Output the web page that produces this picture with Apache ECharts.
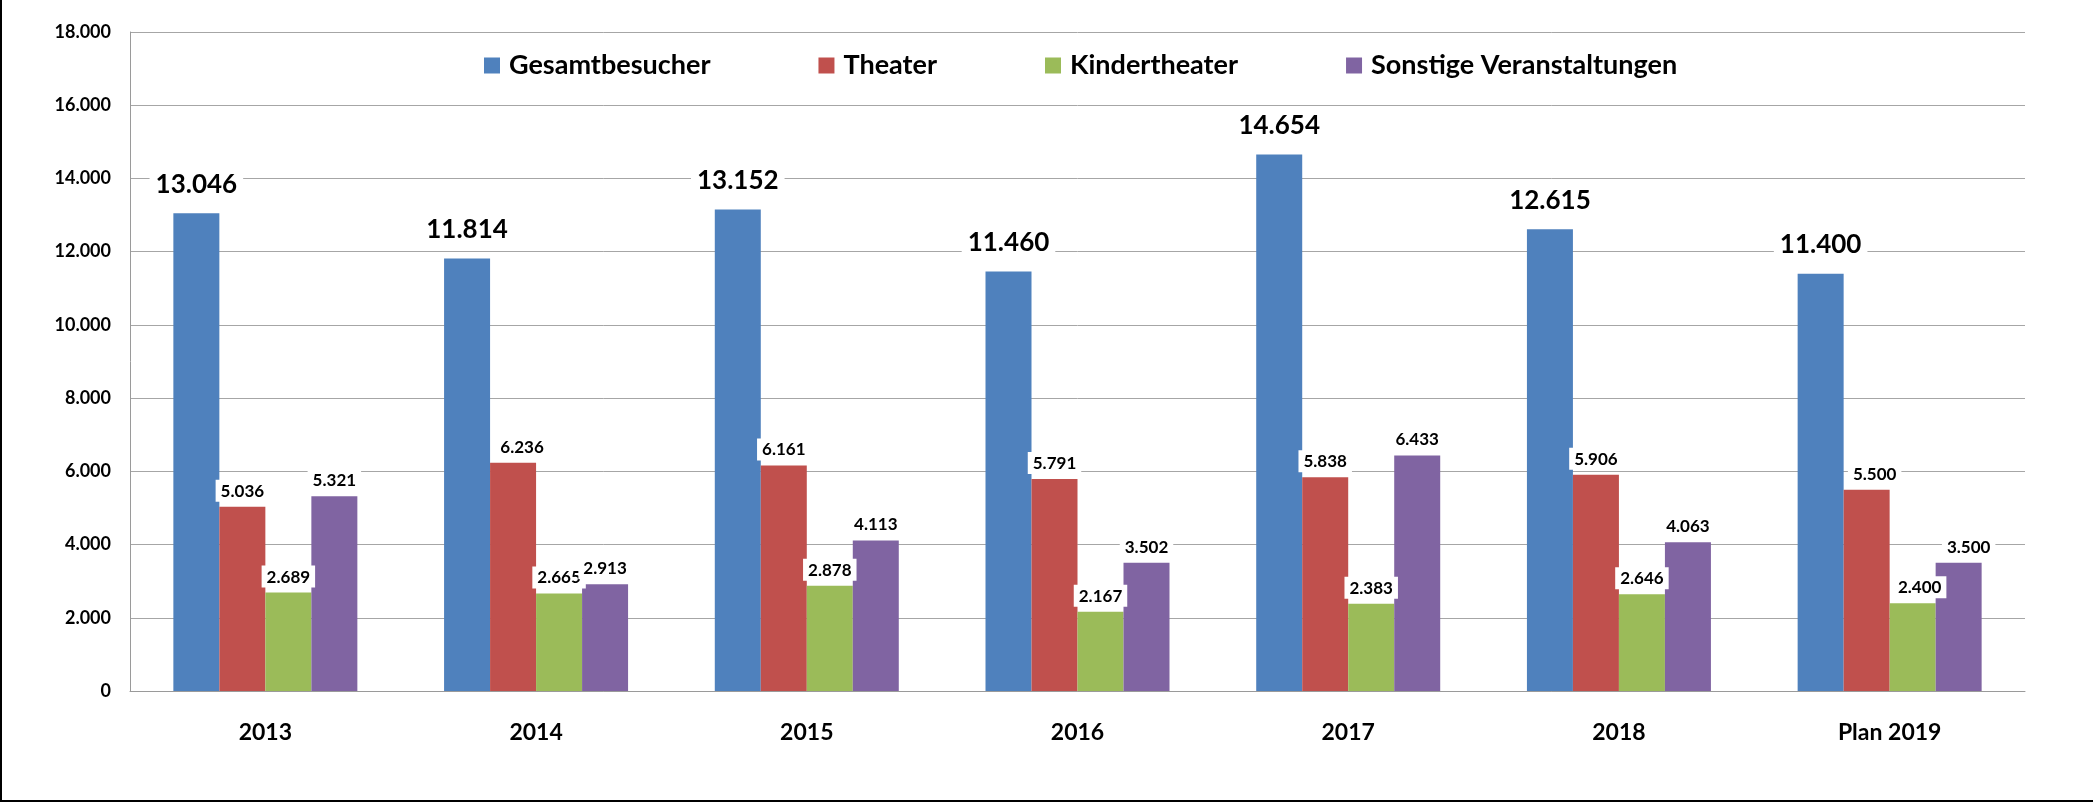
<!DOCTYPE html>
<html>
<head>
<meta charset="utf-8">
<title>Besucher</title>
<script src="https://cdn.jsdelivr.net/npm/echarts@6/dist/echarts.min.js"></script>
<style>
  html, body { margin: 0; padding: 0; background: #fff; }
  #wrap { position: relative; width: 2093px; height: 802px; }
  #chart { width: 2093px; height: 802px; }
  #frame {
    position: absolute; left: 0; top: 0; width: 2093px; height: 802px;
    box-sizing: border-box; border-left: 2px solid #000; border-bottom: 2px solid #000;
    pointer-events: none;
  }
</style>
</head>
<body>
<div id="wrap">
  <div id="chart"></div>
  <div id="frame"></div>
</div>
<script>
// Daten
const years = ['2013', '2014', '2015', '2016', '2017', '2018', 'Plan 2019'];
const gesamt = [13046, 11814, 13152, 11460, 14654, 12615, 11400];
const theater = [5036, 6236, 6161, 5791, 5838, 5906, 5500];
const kinder = [2689, 2665, 2878, 2167, 2383, 2646, 2400];
const sonstige = [5321, 2913, 4113, 3502, 6433, 4063, 3500];
const seriesNames = ['Gesamtbesucher', 'Theater', 'Kindertheater', 'Sonstige Veranstaltungen'];
const colors = ['#4F81BD', '#C0504D', '#9BBB59', '#8064A2'];

const FONT = 'Lato';

// deutsches Zahlenformat: 13046 -> 13.046
function fmt(v) {
  return String(v).replace(/\B(?=(\d{3})+(?!\d))/g, '.');
}

// manche Beschriftungen sind im Original leicht nach rechts verschoben
function withOffsets(values, shifts) {
  return values.map((v, i) => shifts[i]
    ? { value: v, label: { offset: [shifts[i], 0] } }
    : v);
}

function barSeries(name, idx, data, big) {
  return {
    name: name,
    type: 'bar',
    barWidth: 46,
    barGap: '0%',
    data: data,
    itemStyle: { color: colors[idx] },
    label: {
      show: true,
      position: 'top',
      distance: big ? 13 : 5,
      formatter: p => fmt(p.value),
      fontFamily: FONT,
      fontWeight: 'bold',
      fontSize: big ? 26 : 17,
      color: '#000',
      backgroundColor: '#fff',
      padding: big ? [3, 6, 3, 6] : [3, 5, 2, 5]
    }
  };
}

const chart = echarts.init(document.getElementById('chart'));
chart.setOption({
  backgroundColor: '#fff',
  animation: false,
  color: colors,
  legend: {
    left: 479,
    top: 47,
    itemWidth: 16,
    itemHeight: 16,
    itemGap: 108,
    icon: 'rect',
    data: seriesNames,
    textStyle: {
      fontFamily: FONT,
      fontWeight: 'bold',
      fontSize: 27,
      color: '#000',
      padding: [0, 0, 0, 4]
    }
  },
  grid: { left: 130, right: 68, top: 32, bottom: 111 },
  xAxis: {
    type: 'category',
    data: years,
    axisLine: { lineStyle: { color: '#9A9A9A', width: 1 } },
    axisTick: { show: false },
    axisLabel: {
      margin: 30,
      fontFamily: FONT,
      fontWeight: 'bold',
      fontSize: 23,
      color: '#000'
    }
  },
  yAxis: {
    type: 'value',
    min: 0,
    max: 18000,
    interval: 2000,
    axisLine: { show: true, lineStyle: { color: '#9A9A9A', width: 1 } },
    axisTick: { show: false },
    splitLine: { lineStyle: { color: '#A6A6A6', width: 1 } },
    axisLabel: {
      margin: 19,
      formatter: v => fmt(v),
      fontFamily: FONT,
      fontWeight: 'bold',
      fontSize: 18,
      color: '#000'
    }
  },
  series: [
    barSeries(seriesNames[0], 0, gesamt, true),
    barSeries(seriesNames[1], 1, withOffsets(theater, [0, 9, 0, 0, 0, 0, 8]), false),
    barSeries(seriesNames[2], 2, withOffsets(kinder, [0, 0, 0, 0, 0, 0, 7]), false),
    barSeries(seriesNames[3], 3, withOffsets(sonstige, [0, 0, 0, 0, 0, 0, 10]), false)
  ]
});
</script>
</body>
</html>
